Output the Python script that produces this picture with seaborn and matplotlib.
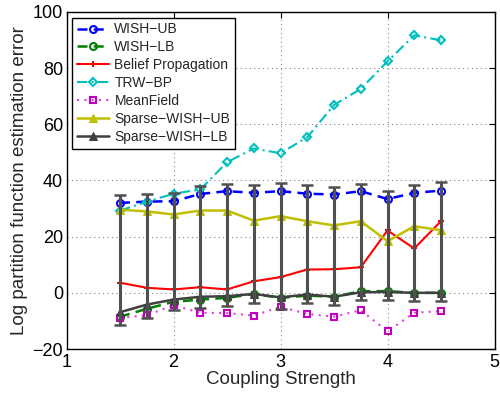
import matplotlib
matplotlib.use("Agg")
import matplotlib.pyplot as plt
import seaborn as sns
import numpy as np
import pandas as pd

coupling = [1.5, 1.75, 2.0, 2.25, 2.5, 2.75, 3.0, 3.25, 3.5, 3.75, 4.0, 4.25, 4.5]
wish_ub = [32.0, 32.5, 32.6, 35.2, 36.2, 35.6, 36.2, 35.3, 35.0, 36.2, 33.4, 35.6, 36.4]
wish_lb = [-8.5, -5.7, -3.2, -2.4, -1.8, -0.4, -1.8, -1.0, -1.4, 0.6, 0.6, 0.0, 0.0]
bp = [3.6, 1.8, 1.2, 2.0, 1.2, 4.1, 5.6, 8.3, 8.4, 9.1, 22.2, 15.8, 25.5]
trw_bp = [29.3, 32.4, 35.3, 36.8, 46.5, 51.4, 49.7, 55.4, 66.9, 72.6, 82.4, 91.7, 89.9]
meanfield = [-8.9, -8.0, -4.4, -7.1, -7.2, -8.1, -5.0, -7.5, -8.5, -6.2, -13.7, -7.1, -6.5]
sparse_ub = [29.6, 29.0, 27.9, 29.3, 29.3, 25.7, 27.3, 25.5, 24.0, 25.5, 18.4, 23.7, 22.3]
sparse_lb = [-6.9, -4.2, -2.4, -1.4, -1.2, -0.4, -1.6, -0.6, -1.4, 0.2, 0.3, 0.0, 0.0]
err_top = [34.7, 35.2, 35.6, 37.9, 38.9, 38.3, 39.1, 38.3, 37.8, 38.9, 36.2, 38.3, 39.3]
err_bottom = [-11.5, -8.9, -6.2, -5.3, -4.6, -3.6, -5.9, -3.6, -4.2, -2.7, -2.4, -3.0, -3.0]

sns.set_style("white")
plt.rcParams['font.family'] = ['Liberation Sans', 'DejaVu Sans']

fig = plt.figure(figsize=(5.0, 3.99), dpi=100)
ax = fig.add_axes([0.133, 0.1253, 0.856, 0.8447])

M = "\u2212"
series = [
    (f"WISH{M}UB", wish_ub, dict(color="#0000ff", linestyle=(0, (4, 2.5)), marker="o", mfc="none", mec="#0000ff", ms=5, mew=1.5, lw=1.8)),
    (f"WISH{M}LB", wish_lb, dict(color="#008000", linestyle=(0, (4, 2.5)), marker="o", mfc="none", mec="#008000", ms=5, mew=1.5, lw=1.8)),
    ("Belief Propagation", bp, dict(color="#ff0000", linestyle="-", marker="+", mec="#ff0000", mfc="#ff0000", ms=5, mew=1.5, lw=1.5)),
    (f"TRW{M}BP", trw_bp, dict(color="#00bfbf", linestyle=(0, (5, 2, 1, 2)), marker="D", mfc="none", mec="#00bfbf", ms=4.5, mew=1.5, lw=1.5)),
    ("MeanField", meanfield, dict(color="#dd44dd", linestyle=(0, (1, 2.5)), marker="s", mfc="none", mec="#bf00bf", ms=5, mew=1.5, lw=1.5)),
    (f"Sparse{M}WISH{M}UB", sparse_ub, dict(color="#bfbf00", linestyle="-", marker="^", mfc="#bfbf00", mec="#bfbf00", ms=6, lw=1.8)),
    (f"Sparse{M}WISH{M}LB", sparse_lb, dict(color="#404040", linestyle="-", marker="^", mfc="#404040", mec="#404040", ms=6, lw=1.8)),
]

for name, vals, kw in series:
    df = pd.DataFrame({"x": coupling, "y": vals})
    sns.lineplot(data=df, x="x", y="y", ax=ax, label=name, **kw)

mid = [(t + b) / 2 for t, b in zip(err_top, err_bottom)]
half = [(t - b) / 2 for t, b in zip(err_top, err_bottom)]
ax.errorbar(coupling, mid, yerr=half, fmt="none", ecolor="#505050", elinewidth=2.2, capsize=4, capthick=1.8, zorder=5)

ax.set_xlim(1, 5)
ax.set_ylim(-20, 100)
ax.set_xticks([1, 2, 3, 4, 5])
ax.set_yticks([-20, 0, 20, 40, 60, 80, 100])
ax.grid(True, linestyle=(0, (1, 3)), color="#888888", linewidth=0.8)
ax.tick_params(direction="in", top=True, right=True, length=4, labelsize=13, colors="black")
ax.tick_params(axis="y", pad=2.5)
for s in ax.spines.values():
    s.set_color("black")
    s.set_linewidth(1.0)
ax.set_xlabel("Coupling Strength", fontsize=13.5, labelpad=0)
ax.set_ylabel("Log partition function estimation error", fontsize=13.5, labelpad=3)

leg = ax.legend(loc="upper left", fontsize=10, frameon=True, fancybox=False, framealpha=1,
                edgecolor="black", handlelength=2.3, handletextpad=0.4, borderpad=0.35,
                labelspacing=0.28, borderaxespad=0.4)
leg.get_frame().set_linewidth(1.0)

fig.savefig("out.png", dpi=100)
